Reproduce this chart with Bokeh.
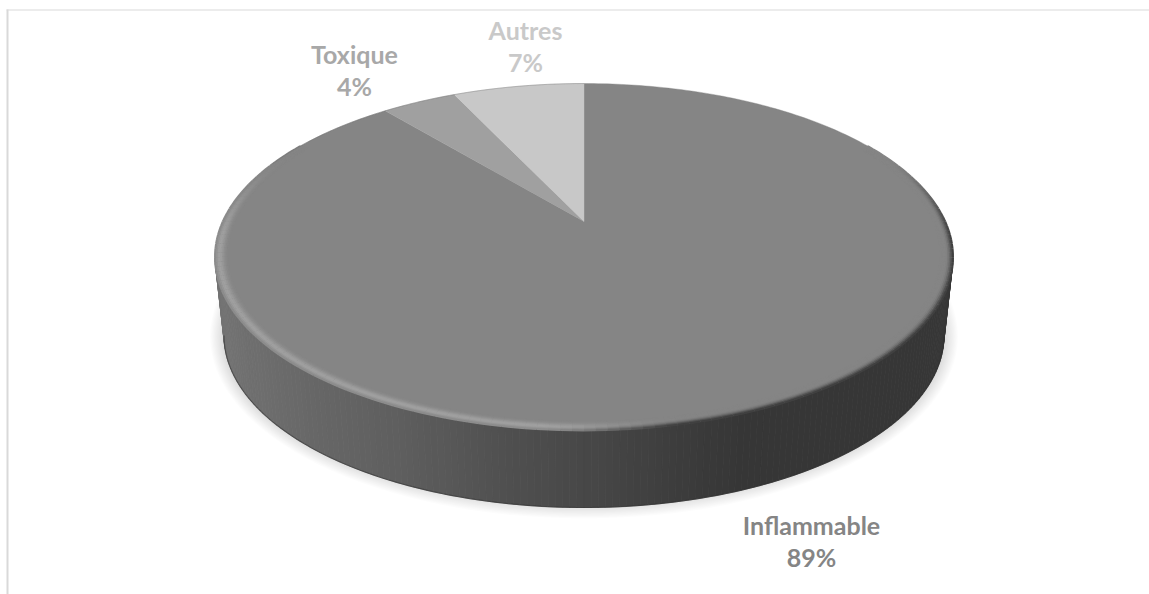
import math
import numpy as np
from bokeh.plotting import figure
from bokeh.models import Range1d
from bokeh.core.properties import value
from bokeh.embed import file_html
from bokeh.resources import INLINE

# ---- data ----
categories = ["Inflammable", "Toxique", "Autres"]
shares = [89, 4, 7]
slice_colors = ["#858585", "#a0a0a0", "#c8c8c8"]
label_colors = ["#858585", "#a8a8a8", "#c9c9c9"]
label_anchor_x = [811, 354, 525]
label_anchor_y = [524, 53, 29]
LINE_STEP = 32

# ---- 3-D projection of the pie ----
APEX_X, APEX_Y = 583.5, 221.0
K, SX, SY = 0.2045, 361.2, 166.2      # perspective of the top face
TOP_CY, TOP_RX, TOP_RY = 256.5, 369.0, 173.5
BOT_CY, BOT_RX, BOT_RY = 335.0, 360.0, 172.0


def project(t, s=1.0):
    """t: clockwise angle from 12 o'clock in radians; s: radial fraction."""
    u, v = s * np.sin(t), s * np.cos(t)
    d = 1 + K * v
    return APEX_X + SX * u / d, APEX_Y - SY * v / d


def mix(a, b, f):
    return a + (b - a) * f


def gray(g):
    g = int(round(max(0, min(255, g))))
    return f"#{g:02x}{g:02x}{g:02x}"


def smooth(a, b, x):
    f = np.clip((x - a) / (b - a), 0, 1)
    return f * f * (3 - 2 * f)


p = figure(width=1149, height=594, output_backend="svg", toolbar_location=None,
           x_range=Range1d(0, 1149), y_range=Range1d(594, 0),
           min_border=0, background_fill_color="white",
           border_fill_color="white", outline_line_color=None)
p.xaxis.visible = False
p.yaxis.visible = False
p.grid.visible = False

# chart frame
p.line([7, 7], [9, 594], line_color="#d9d9d9", line_width=2)
p.line([6, 1149], [9.5, 9.5], line_color="#d9d9d9", line_width=1)

# soft shadow
for i in range(12):
    grow = 14 - i * 1.2
    p.ellipse(x=[APEX_X], y=[BOT_CY + 1], width=[2 * (BOT_RX + grow)],
              height=[2 * (BOT_RY + grow - 4)], fill_color="black", fill_alpha=0.012,
              line_color=None)

# wall: vertical strips shaded from left to right
wall_x = [223, 300, 400, 500, 600, 700, 745, 960]
wall_g = [0x72, 0x68, 0x5e, 0x50, 0x46, 0x3a, 0x36, 0x36]
thetas = np.linspace(math.pi, 0, 161)
xs, ys, cols = [], [], []
for a, b in zip(thetas[:-1], thetas[1:]):
    tx0, ty0 = APEX_X + TOP_RX * math.cos(a), TOP_CY + TOP_RY * math.sin(a)
    tx1, ty1 = APEX_X + TOP_RX * math.cos(b), TOP_CY + TOP_RY * math.sin(b)
    bx0, by0 = APEX_X + BOT_RX * math.cos(a), BOT_CY + BOT_RY * math.sin(a)
    bx1, by1 = APEX_X + BOT_RX * math.cos(b), BOT_CY + BOT_RY * math.sin(b)
    xs.append([tx0, tx1, bx1, bx0])
    ys.append([ty0, ty1, by1, by0])
    cols.append(gray(np.interp((tx0 + tx1) / 2, wall_x, wall_g)))
p.patches(xs, ys, fill_color=cols, line_color=cols, line_width=0.8)
be = np.linspace(math.pi, 0, 200)
p.line(APEX_X + BOT_RX * np.cos(be), BOT_CY + BOT_RY * np.sin(be),
       line_color="#303030", line_alpha=0.55, line_width=1.2)

# top face: slices clockwise from 12 o'clock
total = sum(shares)
start = 0.0
for share, col in zip(shares, slice_colors):
    end = start + share / total * 2 * math.pi
    n = max(8, int(share * 4))
    tt = np.linspace(start, end, n)
    ex, ey = project(tt)
    p.patch(np.r_[APEX_X, ex], np.r_[APEX_Y, ey], fill_color=col, line_color=col, line_width=0.4)
    start = end

# bevelled rim, fading out towards the back of the disc
ring_d = [0.0, 0.004, 0.008, 0.012, 0.016, 0.020, 0.024, 0.028, 0.032]
light = [0x8c, 0x95, 0x9e, 0xa0, 0x9c, 0x95, 0x8e, 0x89, 0x86]
dark = [0x40, 0x52, 0x68, 0x78, 0x82, 0x85, 0x85, 0x85, 0x85]
rx, ry, rc = [], [], []
tt = np.radians(np.arange(300, 60 - 0.1, -1.5))
for d, l, h in zip(ring_d[::-1], light[::-1], dark[::-1]):
    for a, b in zip(tt[:-1], tt[1:]):
        x0, y0 = project(a, 1 - d)
        x1, y1 = project(b, 1 - d)
        mx = (x0 + x1) / 2
        f = smooth(540, 690, mx)
        target = mix(l, h, f)
        w = 1 - smooth(-0.15, 0.45, math.cos((a + b) / 2))
        rx.append([x0, x1])
        ry.append([y0, y1])
        rc.append(gray(mix(0x85, target, w)))
p.multi_line(rx, ry, line_color=rc, line_width=2.0)

# thin back edge
bt = np.radians(np.linspace(-68, 0, 40))
bx, by = project(bt)
p.line(bx, by, line_color="#6a6a6a", line_alpha=0.45, line_width=0.8)

# labels
for cat, share, col, lx, ly in zip(categories, shares, label_colors, label_anchor_x, label_anchor_y):
    p.text(x=[lx, lx], y=[ly, ly + LINE_STEP], text=[cat, f"{share}%"],
           text_font=value("Lato"), text_font_style="bold", text_font_size="25px",
           text_color=col, text_align="center", text_baseline="middle")

open("out.html", "w").write(file_html(p, INLINE))
